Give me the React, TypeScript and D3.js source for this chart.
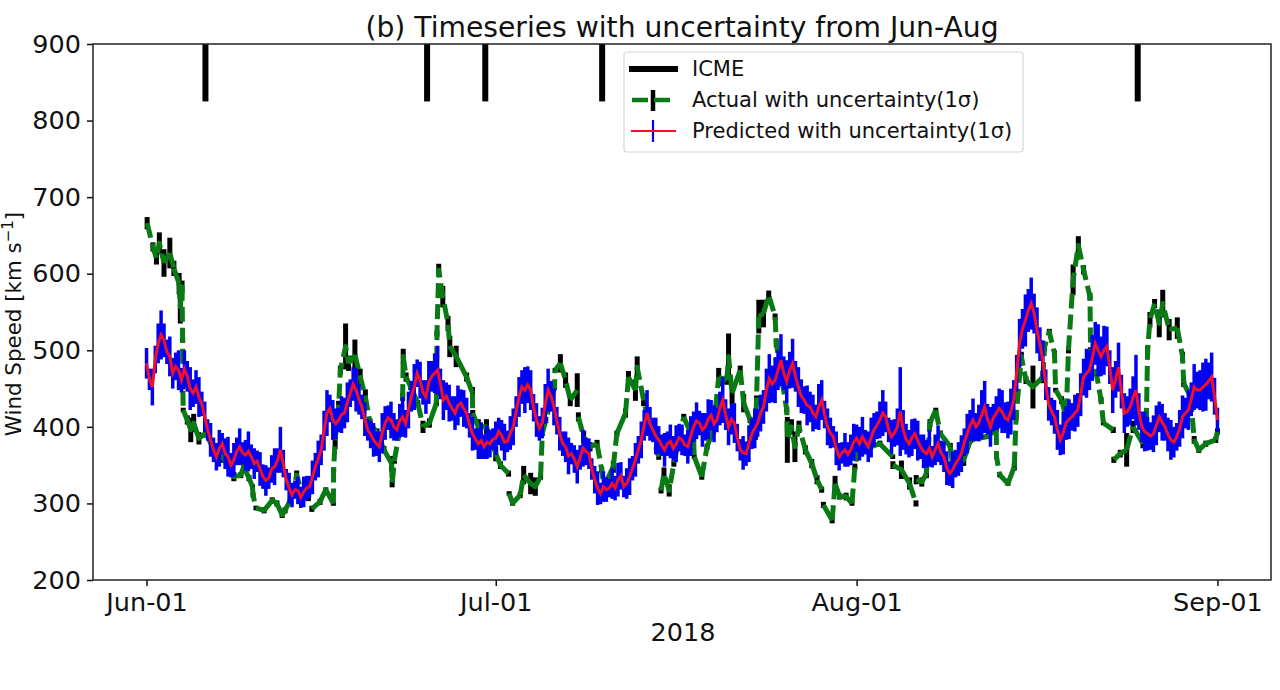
import React, { useEffect, useRef } from 'react'
import * as d3 from 'd3'

// days since 2018-06-01
const icmeDays = [5.06, 24.1, 29.1, 39.14, 85.15]

const monthTicks = ['2018-06-01', '2018-07-01', '2018-08-01', '2018-09-01']
const speedTicks = [200, 300, 400, 500, 600, 700, 800, 900]

const actualDays = [
  0.05, 0.55, 0.85, 1.1, 1.5, 2, 2.35, 2.8, 2.9, 3.05,
  3.1, 3.12, 3.15, 3.5, 3.8, 4.05, 4.5, 5.1, 5.65, 6.5,
  7.05, 7.5, 8.1, 8.35, 8.8, 9.1, 9.15, 9.4, 10.1, 10.8,
  11.2, 11.65, 11.9, 12.35, 12.9, 13.35, 13.9, 14.2, 14.9, 15.4,
  16.05, 16.07, 16.2, 16.5, 16.65, 17.1, 17.35, 17.9, 18.35, 18.8,
  19.2, 19.8, 20.4, 21.05, 21.1, 21.3, 21.75, 22, 22.05, 22.3,
  22.7, 23.3, 23.75, 24.3, 24.9, 24.95, 25.1, 25.45, 25.9, 26.05,
  26.6, 27.5, 28, 28.02, 28.5, 29.2, 30, 30.4, 31.1, 31.15,
  31.45, 32.1, 32.4, 33, 33.4, 33.85, 34, 34.3, 35.05, 35.1,
  35.55, 36, 36.4, 37, 37.1, 37.55, 38.1, 38.7, 39.1, 39.3,
  40.1, 40.4, 41.15, 41.4, 42, 42.15, 42.7, 43.3, 44, 44.2,
  44.45, 44.9, 45.3, 46.15, 47, 47.05, 47.7, 48.15, 48.7, 49.15,
  49.85, 50, 50.3, 51, 51.3, 51.85, 52.3, 52.4, 52.6, 53,
  53.45, 54, 54.1, 54.55, 55, 55.05, 55.4, 55.7, 56.05, 56.6,
  57.15, 57.6, 58, 58.15, 58.9, 59.15, 59.55, 60.1, 60.6, 60.85,
  61.15, 62.2, 63, 64.1, 64.12, 64.85, 65.55, 66.1, 66.12, 66.6,
  67, 67.3, 67.8, 68.2, 69.05, 69.3, 70.2, 70.8, 72.15, 73,
  73.02, 73.3, 74, 74.55, 74.7, 75.15, 75.55, 76.15, 77, 77.15,
  77.55, 78, 78.1, 78.6, 79, 79.2, 79.6, 80.05, 80.5, 81.05,
  81.1, 81.6, 82, 82.2, 83.05, 83.1, 83.65, 84.2, 84.75, 85.6,
  85.9, 86, 86.2, 86.6, 87, 87.3, 87.85, 88.55, 89, 89.1,
  89.7, 90, 90.4, 91, 91.85, 92,
]

const actualSpeed = [
  666, 635, 620, 640, 614, 627, 607, 587, 557, 583,
  513, 452, 422, 409, 396, 405, 385, 392, 374, 361,
  348, 335, 337, 348, 333, 322, 311, 294, 291, 304,
  300, 285, 291, 304, 337, 313, 307, 293, 302, 318,
  300, 344, 383, 426, 474, 505, 483, 494, 466, 439,
  405, 392, 370, 352, 326, 357, 396, 439, 492, 465,
  452, 431, 400, 405, 431, 522, 605, 570, 535, 505,
  492, 465, 444, 418, 400, 400, 365, 350, 339, 313,
  300, 311, 337, 326, 322, 335, 391, 409, 452, 474,
  483, 461, 435, 448, 413, 387, 374, 378, 344, 322,
  348, 391, 418, 465, 448, 478, 435, 396, 361, 317,
  339, 317, 352, 413, 383, 361, 335, 374, 396, 465,
  461, 492, 444, 474, 431, 409, 387, 435, 544, 548,
  572, 544, 509, 465, 422, 383, 400, 374, 400, 370,
  352, 331, 318, 298, 278, 326, 309, 309, 300, 348,
  374, 374, 378, 361, 350, 344, 326, 300, 331, 328,
  339, 405, 422, 391, 374, 344, 357, 383, 387, 396,
  361, 337, 326, 348, 413, 492, 461, 452, 465, 505,
  524, 496, 448, 435, 413, 500, 592, 637, 605, 570,
  500, 470, 435, 405, 396, 357, 365, 370, 400, 378,
  417, 500, 540, 561, 535, 561, 527, 529, 492, 457,
  439, 383, 370, 378, 383, 394,
]

const actualError = [
  8, 6, 8, 14, 18, 20, 10, 14, 22, 8,
  3, 3, 3, 6, 16, 12, 8, 6, 6, 8,
  4, 6, 4, 5, 4, 3, 3, 3, 4, 4,
  4, 4, 4, 3, 6, 4, 4, 4, 4, 3,
  3, 3, 12, 8, 6, 30, 10, 20, 10, 10,
  6, 6, 5, 10, 5, 5, 5, 5, 10, 6,
  4, 4, 8, 6, 4, 4, 8, 14, 10, 14,
  14, 6, 8, 4, 10, 10, 10, 5, 4, 3,
  3, 4, 12, 14, 12, 4, 3, 4, 4, 3,
  12, 10, 8, 22, 6, 8, 6, 5, 4, 3,
  8, 4, 6, 8, 14, 14, 8, 5, 4, 4,
  8, 8, 4, 4, 4, 3, 4, 4, 6, 12,
  6, 30, 14, 6, 12, 4, 4, 6, 22, 18,
  6, 4, 5, 6, 4, 30, 10, 20, 8, 6,
  6, 6, 4, 4, 4, 10, 4, 5, 3, 4,
  3, 3, 4, 3, 5, 12, 8, 4, 6, 6,
  6, 5, 3, 4, 5, 6, 8, 4, 3, 3,
  3, 3, 3, 5, 5, 6, 5, 28, 8, 6,
  4, 4, 3, 5, 8, 4, 20, 12, 6, 5,
  4, 4, 4, 3, 4, 4, 5, 22, 8, 6,
  5, 6, 10, 6, 18, 18, 14, 14, 6, 5,
  4, 5, 4, 4, 4, 4,
]

// segments of the actual line that start on these days are blank in the picture
const actualBlankDays = [13.9, 31.1, 37, 44, 58, 64.1, 66.1, 83.05]

// predicted speed, one value every quarter day from Jun-01 to Sep-01
const predictedSpeed = [
  483, 462, 452, 488, 509, 520, 513, 498, 492, 470, 479, 474, 461, 476, 466, 450, 444, 452, 439, 430,
  413, 396, 383, 370, 361, 372, 378, 365, 361, 350, 357, 368, 374, 366, 363, 368, 361, 352, 355, 345,
  335, 330, 333, 345, 348, 356, 370, 352, 331, 320, 311, 318, 317, 308, 315, 320, 322, 334, 348, 358,
  370, 395, 418, 424, 409, 404, 409, 416, 418, 432, 444, 456, 448, 436, 426, 410, 396, 390, 383, 378,
  374, 392, 405, 412, 409, 400, 396, 408, 413, 404, 422, 440, 452, 470, 461, 445, 439, 458, 466, 470,
  474, 456, 435, 440, 431, 424, 418, 428, 431, 424, 418, 402, 391, 384, 378, 382, 374, 380, 378, 384,
  385, 394, 389, 380, 381, 392, 400, 420, 439, 452, 448, 455, 448, 425, 409, 398, 405, 430, 448, 440,
  426, 408, 391, 378, 374, 362, 365, 358, 348, 360, 372, 368, 365, 345, 331, 320, 313, 322, 318, 320,
  326, 320, 331, 336, 322, 326, 335, 346, 357, 370, 383, 402, 418, 404, 396, 388, 383, 376, 370, 378,
  381, 372, 378, 386, 383, 376, 374, 388, 400, 408, 405, 396, 400, 410, 415, 404, 409, 424, 435, 416,
  400, 410, 405, 386, 370, 366, 365, 378, 391, 398, 405, 418, 426, 448, 463, 456, 461, 474, 487, 470,
  459, 474, 483, 466, 452, 440, 435, 428, 426, 418, 413, 426, 435, 416, 400, 392, 387, 372, 361, 366,
  370, 364, 370, 380, 385, 378, 387, 380, 374, 386, 396, 402, 409, 418, 413, 396, 387, 392, 400, 420,
  396, 384, 378, 386, 391, 382, 374, 368, 365, 372, 361, 370, 378, 366, 361, 346, 339, 344, 352, 358,
  365, 380, 391, 402, 409, 400, 405, 416, 426, 410, 400, 412, 418, 424, 420, 412, 409, 420, 435, 470,
  509, 528, 539, 552, 561, 548, 526, 508, 487, 455, 430, 420, 413, 396, 383, 392, 405, 410, 413, 418,
  422, 442, 465, 470, 474, 490, 509, 500, 492, 500, 505, 478, 448, 462, 478, 446, 418, 420, 426, 438,
  448, 420, 400, 394, 391, 388, 391, 402, 413, 406, 400, 390, 383, 380, 387, 398, 413, 418, 422, 436,
  452, 448, 448, 452, 455, 460, 465, 440, 409,
]

const predictedError = [
  20, 14, 24, 18, 26, 32, 22, 16, 26, 20, 18, 26, 16, 24, 20, 28, 18, 22, 26, 16,
  20, 14, 22, 16, 18, 24, 14, 20, 26, 16, 22, 18, 24, 14, 20, 26, 16, 20, 14, 22,
  16, 20, 14, 18, 24, 16, 30, 18, 14, 20, 16, 12, 18, 14, 20, 16, 14, 22, 18, 24,
  20, 26, 30, 18, 26, 20, 16, 24, 20, 26, 18, 22, 28, 20, 16, 22, 14, 18, 22, 16,
  20, 26, 22, 16, 24, 18, 14, 22, 26, 18, 24, 20, 30, 18, 24, 16, 22, 28, 20, 26,
  32, 20, 26, 18, 24, 16, 22, 26, 18, 24, 20, 16, 22, 14, 20, 24, 16, 22, 18, 14,
  22, 18, 20, 24, 14, 22, 24, 20, 26, 22, 30, 24, 26, 18, 22, 16, 20, 26, 28, 20,
  24, 18, 22, 16, 20, 24, 14, 18, 22, 16, 24, 18, 20, 14, 18, 22, 14, 20, 16, 12,
  20, 16, 22, 18, 14, 20, 24, 16, 22, 18, 24, 20, 30, 22, 16, 24, 18, 14, 22, 16,
  22, 16, 24, 18, 20, 14, 22, 26, 20, 24, 16, 22, 18, 26, 20, 24, 16, 22, 30, 20,
  24, 20, 26, 18, 14, 22, 16, 24, 20, 26, 18, 24, 22, 28, 32, 24, 30, 26, 34, 22,
  28, 24, 32, 20, 26, 22, 18, 26, 20, 24, 16, 30, 26, 18, 24, 20, 14, 22, 18, 14,
  22, 16, 20, 24, 18, 22, 26, 16, 20, 26, 22, 18, 24, 30, 20, 16, 22, 18, 24, 58,
  26, 20, 18, 24, 20, 26, 16, 22, 18, 24, 14, 20, 24, 16, 20, 22, 16, 24, 18, 22,
  24, 18, 26, 20, 28, 18, 24, 32, 34, 20, 26, 18, 22, 26, 28, 20, 24, 30, 26, 24,
  32, 26, 34, 28, 34, 26, 30, 22, 26, 20, 22, 18, 22, 26, 20, 28, 22, 26, 18, 24,
  22, 28, 24, 32, 26, 30, 28, 34, 26, 32, 26, 22, 30, 24, 32, 22, 26, 20, 24, 28,
  46, 24, 20, 26, 22, 18, 24, 26, 20, 24, 18, 22, 26, 20, 18, 24, 28, 20, 26, 22,
  30, 24, 26, 32, 34, 24, 32, 24, 16,
]

const dayToDate = (d: number) => new Date(Date.UTC(2018, 5, 1) + d * 864e5)

const FONT = '"DejaVu Sans", sans-serif'
const GREEN = '#0a7a14'
const BLUE = '#0000f5'
const RED = '#f0102a'

export default function App() {
  const svgRef = useRef<SVGSVGElement>(null)

  useEffect(() => {
    if (!svgRef.current) return
    const svg = d3.select(svgRef.current)
    svg.selectAll('*').remove()

    const left = 93
    const right = 1271
    const top = 44
    const bottom = 580

    // matplotlib keeps 5% margins around the dates
    const x = d3.scaleUtc().domain([dayToDate(-4.6), dayToDate(96.6)]).range([left, right])
    const y = d3.scaleLinear().domain([200, 900]).range([bottom, top])
    const xDay = (d: number) => x(dayToDate(d))

    svg.append('rect').attr('width', 1280).attr('height', 690).attr('fill', '#fff')

    // Actual: black error bars under a green line
    const actualBars = svg.append('g').attr('stroke', '#000').attr('stroke-width', 5)
    actualDays.forEach((d, i) => {
      actualBars
        .append('line')
        .attr('x1', xDay(d))
        .attr('x2', xDay(d))
        .attr('y1', y(actualSpeed[i] - actualError[i]))
        .attr('y2', y(actualSpeed[i] + actualError[i]))
    })

    // The noisy original dashed line only reads as dashed on its steep stretches,
    // so split it into solid runs and dashed runs
    const isSteep = (i: number) => {
      const dx = Math.abs(xDay(actualDays[i + 1]) - xDay(actualDays[i]))
      const dy = Math.abs(y(actualSpeed[i + 1]) - y(actualSpeed[i]))
      return dy > 3 * dx && dy > 8
    }
    const actualGreen = svg.append('g').attr('fill', 'none').attr('stroke', GREEN).attr('stroke-width', 5)
    let run: [number, number][] = []
    let runSteep = false
    const flushRun = () => {
      if (run.length > 1) {
        actualGreen
          .append('path')
          .attr('d', d3.line()(run))
          .attr('stroke-dasharray', runSteep ? '15 6' : null)
          .attr('stroke-linejoin', 'round')
      }
      run = []
    }
    for (let i = 0; i < actualDays.length - 1; i++) {
      const a: [number, number] = [xDay(actualDays[i]), y(actualSpeed[i])]
      const b: [number, number] = [xDay(actualDays[i + 1]), y(actualSpeed[i + 1])]
      if (actualBlankDays.includes(actualDays[i])) {
        flushRun()
        continue
      }
      const steep = isSteep(i)
      if (run.length && steep !== runSteep) flushRun()
      if (!run.length) run.push(a)
      runSteep = steep
      run.push(b)
    }
    flushRun()

    // Predicted: blue error bars, red line on top
    const predictedBars = svg.append('g').attr('stroke', BLUE).attr('stroke-width', 3.5)
    predictedSpeed.forEach((v, i) => {
      predictedBars
        .append('line')
        .attr('x1', xDay(i * 0.25))
        .attr('x2', xDay(i * 0.25))
        .attr('y1', y(v - predictedError[i]))
        .attr('y2', y(v + predictedError[i]))
    })

    const predictedLine = d3
      .line<number>()
      .x((_, i) => xDay(i * 0.25))
      .y(d => y(d))

    svg
      .append('path')
      .attr('d', predictedLine(predictedSpeed))
      .attr('fill', 'none')
      .attr('stroke', RED)
      .attr('stroke-width', 3)

    // ICME markers hang from the top of the axes
    svg
      .append('g')
      .selectAll('line')
      .data(icmeDays)
      .enter()
      .append('line')
      .attr('x1', d => xDay(d))
      .attr('x2', d => xDay(d))
      .attr('y1', y(900))
      .attr('y2', y(825))
      .attr('stroke', '#000')
      .attr('stroke-width', 6)

    // Axes
    const xAxis = d3
      .axisBottom(x)
      .tickValues(monthTicks.map(s => new Date(s + 'T00:00:00Z')))
      .tickFormat(d => d3.utcFormat('%b-%d')(d as Date))
      .tickSize(6)
      .tickPadding(7)
    const yAxis = d3.axisLeft(y).tickValues(speedTicks).tickSize(6).tickPadding(6)

    const gx = svg.append('g').attr('transform', `translate(0,${bottom})`).call(xAxis)
    const gy = svg.append('g').attr('transform', `translate(${left},0)`).call(yAxis)
    ;[gx, gy].forEach(g => {
      g.selectAll('.domain').remove()
      g.selectAll('line').attr('stroke', '#111').attr('stroke-width', 1.5)
      g.selectAll('text').attr('font-family', FONT).attr('font-size', 25.5).attr('fill', '#111')
    })

    svg
      .append('rect')
      .attr('x', left)
      .attr('y', top)
      .attr('width', right - left)
      .attr('height', bottom - top)
      .attr('fill', 'none')
      .attr('stroke', '#222')
      .attr('stroke-width', 1.5)

    // Titles
    svg
      .append('text')
      .attr('x', 682)
      .attr('y', 37)
      .attr('text-anchor', 'middle')
      .attr('font-family', FONT)
      .attr('font-size', 28.2)
      .attr('fill', '#111')
      .text('(b) Timeseries with uncertainty from Jun-Aug')

    svg
      .append('text')
      .attr('x', 683)
      .attr('y', 641)
      .attr('text-anchor', 'middle')
      .attr('font-family', FONT)
      .attr('font-size', 25.5)
      .attr('fill', '#111')
      .text('2018')

    const yLabel = svg
      .append('text')
      .attr('transform', 'translate(21,324) rotate(-90)')
      .attr('text-anchor', 'middle')
      .attr('font-family', FONT)
      .attr('font-size', 21.4)
      .attr('fill', '#111')
    yLabel.append('tspan').text('Wind Speed [km s')
    yLabel.append('tspan').attr('dy', -8).attr('font-size', 15).text('−1')
    yLabel.append('tspan').attr('dy', 8).text(']')

    // Legend
    const legend = svg.append('g')
    legend
      .append('rect')
      .attr('x', 624)
      .attr('y', 52)
      .attr('width', 399)
      .attr('height', 100)
      .attr('rx', 3)
      .attr('fill', '#fff')
      .attr('fill-opacity', 0.85)
      .attr('stroke', '#d8d8d8')
      .attr('stroke-width', 1.2)

    const legendLine = (x1: number, y1: number, x2: number, y2: number, color: string, w: number) =>
      legend
        .append('line')
        .attr('x1', x1)
        .attr('y1', y1)
        .attr('x2', x2)
        .attr('y2', y2)
        .attr('stroke', color)
        .attr('stroke-width', w)

    legendLine(629, 69, 678, 69, '#000', 6)
    legendLine(653, 90, 653, 111, '#000', 4.5)
    legendLine(632, 100, 648, 100, GREEN, 4.5)
    legendLine(654, 100, 670, 100, GREEN, 4.5)
    legendLine(653, 120, 653, 142, BLUE, 2.2)
    legendLine(631, 131, 676, 131, RED, 2)

    const legendLabels = ['ICME', 'Actual with uncertainty(1σ)', 'Predicted with uncertainty(1σ)']
    legendLabels.forEach((t, i) => {
      legend
        .append('text')
        .attr('x', 692)
        .attr('y', [76, 107, 138][i])
        .attr('font-family', FONT)
        .attr('font-size', 21)
        .attr('fill', '#111')
        .text(t)
    })
  }, [])

  return (
    <svg
      ref={svgRef}
      width={1280}
      height={690}
      style={{ position: 'absolute', left: 0, top: 0, display: 'block' }}
    />
  )
}
